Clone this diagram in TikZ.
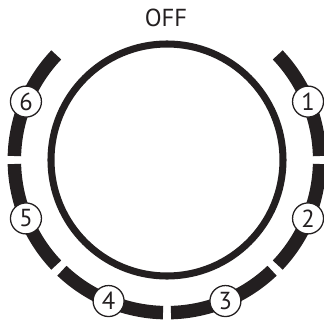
\documentclass[tikz,border=0pt]{standalone}
\usepackage{fontspec}
\setmainfont{PT Sans}
\usetikzlibrary{positioning}
\definecolor{koyuGri}{HTML}{231F20}

\begin{document}
\begin{tikzpicture}[every node/.style={font=\fontsize{21}{21}\selectfont,text=koyuGri},
  halka/.style={draw=koyuGri,line width=11.5pt},
  numara/.style={circle,draw=koyuGri,fill=white,line width=1.1pt,inner sep=0pt,minimum size=0.93cm}]
\useasboundingbox (-5.01,-4.92) rectangle (4.71,4.8);
\node (kapali) at (-0.03,4.25) {OFF};
\draw[koyuGri,line width=6pt] (0,0) circle (3.48);
% dis halka: 45 derecelik parcalar
\foreach \a in {0,-45,-90,-135,-180,-225}
  \draw[halka] (\a+1.5:4.58) arc (\a+1.5:\a+43.5:4.58);
\foreach \n/\a in {1/22.5,2/-22.5,3/-67.5,4/-112.5,5/-157.5,6/157.5}
  \node[numara] (n\n) at (\a:4.58) {\n};
\end{tikzpicture}
\end{document}
